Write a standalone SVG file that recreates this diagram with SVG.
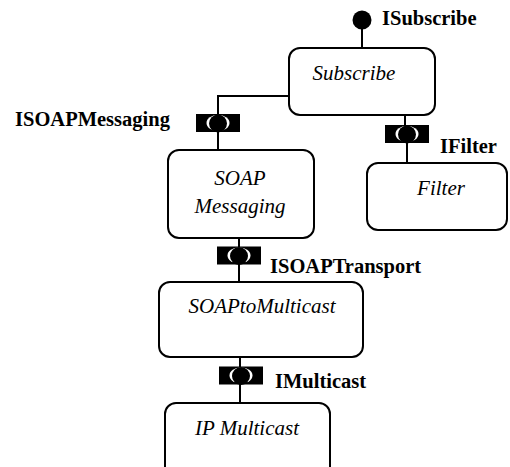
<svg xmlns="http://www.w3.org/2000/svg" xmlns:xlink="http://www.w3.org/1999/xlink" width="510" height="467" viewBox="0 0 510 467">
  <style>
    .box { fill: #fff; stroke: #000; stroke-width: 2; }
    .wire { fill: none; stroke: #000; stroke-width: 2; }
    .name { font-family: "Liberation Serif", Tinos, "Times New Roman", Times, "DejaVu Serif", serif; font-style: italic; font-size: 21px; text-anchor: middle; fill: #000; }
    .iface { font-family: "Liberation Serif", Tinos, "Times New Roman", Times, "DejaVu Serif", serif; font-weight: bold; font-size: 20.5px; fill: #000; }
  </style>
  <defs>
    <!-- required-interface socket holding a provided-interface ball -->
    <g id="socket">
      <rect x="-22" y="-9" width="44" height="18" fill="#000"/>
      <ellipse cx="0" cy="0" rx="11.5" ry="8" fill="#fff"/>
      <circle cx="0" cy="0.5" r="9" fill="#000"/>
    </g>
  </defs>

  <g id="connectors">
    <!-- ISubscribe lollipop -->
    <line class="wire" x1="362" y1="28" x2="362" y2="48"/>
    <circle cx="362" cy="20" r="9.5" fill="#000"/>
    <!-- Subscribe -> ISOAPMessaging -->
    <path class="wire" d="M289,96 H218 V150"/>
    <use xlink:href="#socket" x="218" y="123"/>
    <!-- Subscribe -> IFilter -->
    <path class="wire" d="M405,115 V126"/>
    <path class="wire" d="M407,134 V163"/>
    <use xlink:href="#socket" x="407" y="134"/>
    <!-- SOAP Messaging -> ISOAPTransport -->
    <path class="wire" d="M239,238 V282"/>
    <use xlink:href="#socket" x="239" y="255.5"/>
    <!-- SOAPtoMulticast -> IMulticast -->
    <path class="wire" d="M240,357 V403"/>
    <use xlink:href="#socket" x="241" y="375.5"/>
  </g>

  <g id="label-isubscribe"><text class="iface" x="382" y="25">ISubscribe</text></g>
  <g id="label-isoapmessaging"><text class="iface" x="15" y="126">ISOAPMessaging</text></g>
  <g id="label-ifilter"><text class="iface" x="440" y="153">IFilter</text></g>
  <g id="label-isoaptransport"><text class="iface" x="270" y="273">ISOAPTransport</text></g>
  <g id="label-imulticast"><text class="iface" x="275" y="388">IMulticast</text></g>

  <g id="subscribe">
    <rect class="box" x="289" y="48" width="146" height="67" rx="11"/>
    <text class="name" x="354" y="80">Subscribe</text>
  </g>
  <g id="filter">
    <rect class="box" x="367" y="163" width="140" height="67" rx="11"/>
    <text class="name" x="441" y="195">Filter</text>
  </g>
  <g id="soap-messaging">
    <rect class="box" x="168" y="150" width="146" height="88" rx="11"/>
    <text class="name" x="240" y="185">SOAP</text>
    <text class="name" x="240" y="213">Messaging</text>
  </g>
  <g id="soap-to-multicast">
    <rect class="box" x="159" y="282" width="204" height="75" rx="11"/>
    <text class="name" x="262" y="313">SOAPtoMulticast</text>
  </g>
  <g id="ip-multicast">
    <rect class="box" x="165" y="403" width="165" height="80" rx="11"/>
    <text class="name" x="247" y="435">IP Multicast</text>
  </g>
</svg>
